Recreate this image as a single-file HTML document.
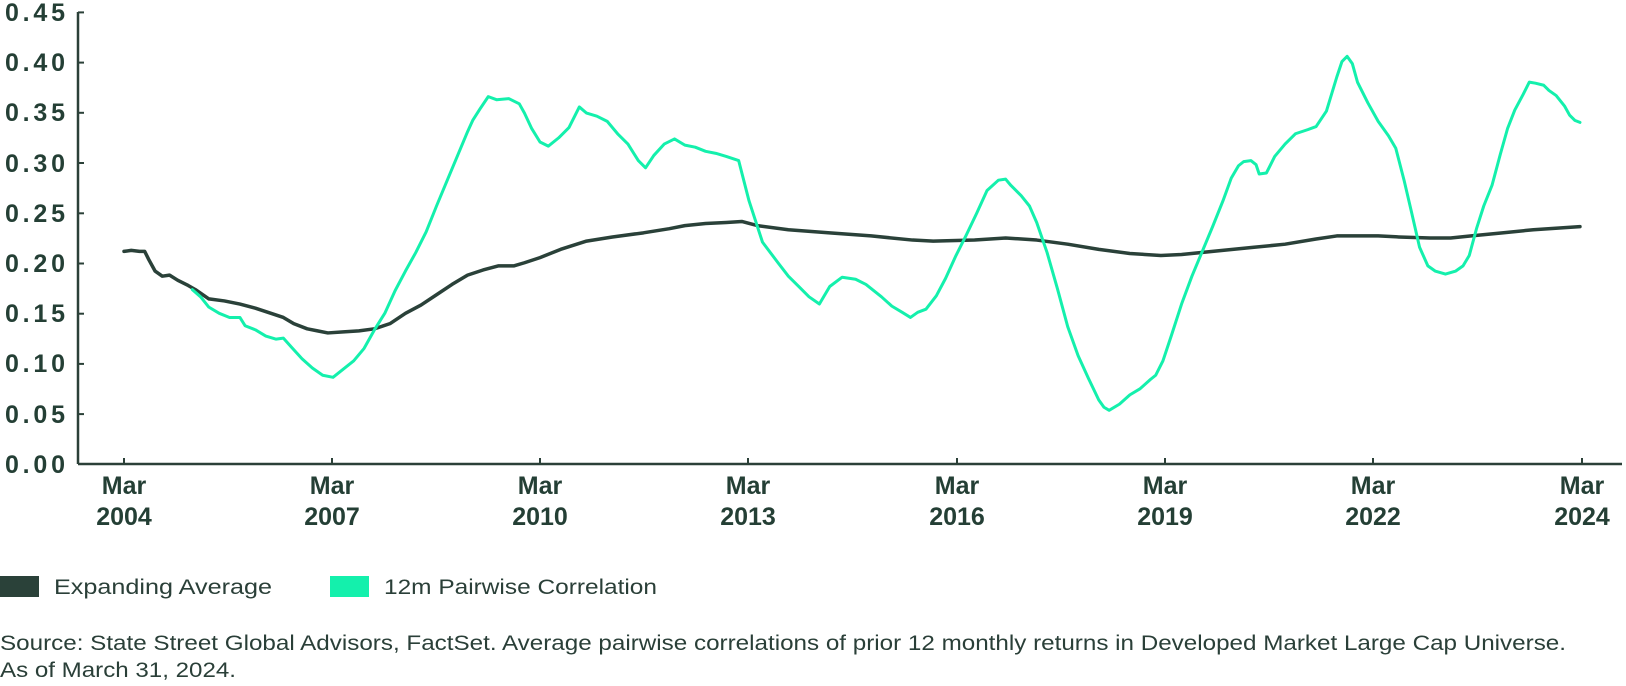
<!DOCTYPE html>
<html><head><meta charset="utf-8"><style>
html,body{margin:0;padding:0;background:#fff;width:1626px;height:686px;overflow:hidden}
svg{display:block}
.yl{font:bold 25px "Liberation Sans",sans-serif;fill:#243f35;text-anchor:end}
.xl{font:bold 25px "Liberation Sans",sans-serif;fill:#243f35;text-anchor:middle}
.lg{font:21px "Liberation Sans",sans-serif;fill:#2a3f38}
</style></head><body>
<svg width="1626" height="686" viewBox="0 0 1626 686">
<g stroke="#2b4038" stroke-width="2.5" fill="none">
<line x1="78" y1="12" x2="78" y2="464"/>
<line x1="78" y1="464" x2="1622" y2="464"/>
</g>
<g stroke="#2b4038" stroke-width="2">
<line x1="78" y1="12.4" x2="84" y2="12.4"/><line x1="78" y1="62.6" x2="84" y2="62.6"/>
<line x1="78" y1="112.8" x2="84" y2="112.8"/><line x1="78" y1="163" x2="84" y2="163"/>
<line x1="78" y1="213.3" x2="84" y2="213.3"/><line x1="78" y1="263.5" x2="84" y2="263.5"/>
<line x1="78" y1="313.7" x2="84" y2="313.7"/><line x1="78" y1="363.9" x2="84" y2="363.9"/>
<line x1="78" y1="414.1" x2="84" y2="414.1"/>
<line x1="124" y1="458" x2="124" y2="464"/><line x1="332" y1="458" x2="332" y2="464"/>
<line x1="540" y1="458" x2="540" y2="464"/><line x1="748" y1="458" x2="748" y2="464"/>
<line x1="957" y1="458" x2="957" y2="464"/><line x1="1165" y1="458" x2="1165" y2="464"/>
<line x1="1373" y1="458" x2="1373" y2="464"/><line x1="1582" y1="458" x2="1582" y2="464"/>
</g>
<g class="yl">
<text x="65" y="21" textLength="60" lengthAdjust="spacing">0.45</text><text x="65" y="71" textLength="60" lengthAdjust="spacing">0.40</text><text x="65" y="121" textLength="60" lengthAdjust="spacing">0.35</text>
<text x="65" y="172" textLength="60" lengthAdjust="spacing">0.30</text><text x="65" y="222" textLength="60" lengthAdjust="spacing">0.25</text><text x="65" y="272" textLength="60" lengthAdjust="spacing">0.20</text>
<text x="65" y="322" textLength="60" lengthAdjust="spacing">0.15</text><text x="65" y="372" textLength="60" lengthAdjust="spacing">0.10</text><text x="65" y="423" textLength="60" lengthAdjust="spacing">0.05</text>
<text x="65" y="473" textLength="60" lengthAdjust="spacing">0.00</text>
</g>
<g class="xl">
<text x="124" y="494">Mar</text><text x="124" y="525">2004</text>
<text x="332" y="494">Mar</text><text x="332" y="525">2007</text>
<text x="540" y="494">Mar</text><text x="540" y="525">2010</text>
<text x="748" y="494">Mar</text><text x="748" y="525">2013</text>
<text x="957" y="494">Mar</text><text x="957" y="525">2016</text>
<text x="1165" y="494">Mar</text><text x="1165" y="525">2019</text>
<text x="1373" y="494">Mar</text><text x="1373" y="525">2022</text>
<text x="1582" y="494">Mar</text><text x="1582" y="525">2024</text>
</g>
<g transform="translate(1.9,-0.4) scale(1.0348,1.032)" fill="none" stroke-linejoin="round" stroke-linecap="round">
<polyline vector-effect="non-scaling-stroke" stroke="#2a4139" stroke-width="3.5" points="118,244 125,243 133,244 138,244 142,252 148,263 155,268 162,267 170,272 180,277 187,281 200,290 215,292 230,295 245,299 260,304 272,308 282,314 295,319 305,321 315,323 330,322 345,321 360,319 375,314 390,304 405,296 420,286 435,276 450,267 465,262 480,258 495,258 505,255 520,250 540,242 565,234 590,230 620,226 645,222 660,219 680,217 700,216 715,215 730,219 760,223 800,226 840,229 880,233 900,234 940,233 970,231 1000,233 1030,237 1060,242 1090,246 1120,248 1140,247 1170,244 1210,240 1240,237 1270,232 1290,229 1330,229 1350,230 1380,231 1400,231 1420,229 1450,226 1480,223 1525,220"/>
<polyline vector-effect="non-scaling-stroke" stroke="#14f0ac" stroke-width="3" points="184,281 192,288 200,298 210,304 220,308 230,308 235,316 245,320 255,326 265,329 272,328 280,337 290,348 300,357 310,364 320,366 330,358 340,350 350,338 360,320 370,304 380,282 390,263 400,245 410,225 420,200 430,176 440,152 450,128 455,117 462,106 470,94 478,97 490,96 500,101 505,110 512,125 520,138 528,142 538,134 548,124 558,104 565,110 575,113 585,118 595,130 605,140 615,156 622,163 630,151 640,140 650,135 660,141 670,143 680,147 690,149 700,152 712,156 722,195 735,235 750,255 760,268 770,278 780,288 790,295 800,278 812,269 825,271 835,276 850,288 860,297 870,303 878,308 885,303 893,300 903,287 912,270 922,248 932,228 942,207 952,185 963,175 970,174 975,180 985,190 993,200 1000,216 1010,245 1020,280 1030,317 1040,345 1050,367 1060,388 1065,395 1070,398 1080,392 1090,383 1100,377 1110,368 1115,364 1122,350 1130,326 1140,295 1150,268 1160,244 1170,220 1180,195 1188,173 1195,161 1200,157 1207,156 1212,160 1215,169 1222,168 1230,152 1240,140 1250,130 1262,126 1270,123 1280,108 1290,75 1295,60 1300,55 1305,62 1310,80 1320,100 1330,118 1340,132 1347,144 1355,175 1362,205 1370,240 1378,258 1385,263 1395,266 1405,263 1412,258 1418,248 1425,222 1432,200 1440,180 1448,150 1455,125 1462,107 1470,92 1476,80 1482,81 1490,83 1495,88 1502,93 1510,103 1515,112 1520,117 1525,119"/>
</g>
<rect x="0" y="576" width="39" height="21" fill="#2a4139"/>
<text class="lg" x="54" y="594" textLength="218" lengthAdjust="spacingAndGlyphs">Expanding Average</text>
<rect x="330" y="576" width="39" height="21" fill="#14f0ac"/>
<text class="lg" x="384" y="594" textLength="273" lengthAdjust="spacingAndGlyphs">12m Pairwise Correlation</text>
<text class="lg" x="0" y="650" textLength="1566" lengthAdjust="spacingAndGlyphs">Source: State Street Global Advisors, FactSet. Average pairwise correlations of prior 12 monthly returns in Developed Market Large Cap Universe.</text>
<text class="lg" x="0" y="677" textLength="236" lengthAdjust="spacingAndGlyphs">As of March 31, 2024.</text>
</svg>
</body></html>
